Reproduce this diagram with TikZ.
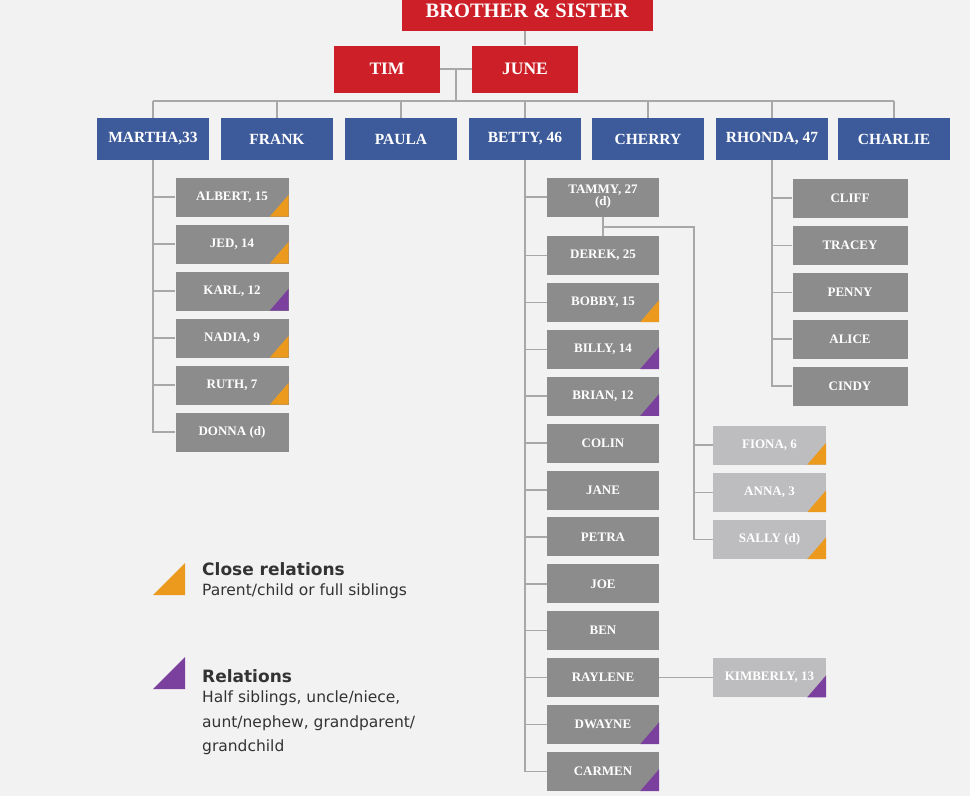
\documentclass[tikz,border=0pt]{standalone}
\usepackage{fontspec}
\setmainfont{Liberation Serif}
\newfontfamily\legendfont{DejaVu Sans}
\definecolor{famback}{HTML}{F2F2F2}
\definecolor{famred}{HTML}{CC1F27}
\definecolor{famblue}{HTML}{3D5B9B}
\definecolor{famgrey}{HTML}{8C8C8C}
\definecolor{fampale}{HTML}{BDBDBF}
\definecolor{famline}{HTML}{A8A8A8}
\definecolor{famorange}{HTML}{EC9A1E}
\definecolor{fampurple}{HTML}{7B3F9E}
\definecolor{famtext}{HTML}{333333}
\begin{document}
\begin{tikzpicture}[x=1pt,y=-1pt,
    redbox/.style={fill=famred, text=white, inner sep=0pt,
      minimum width=106pt, minimum height=47pt,
      font=\bfseries\fontsize{17.5}{19}\selectfont},
    bluebox/.style={fill=famblue, text=white, inner sep=0pt,
      minimum width=112pt, minimum height=42pt,
      font=\bfseries\fontsize{15.5}{17}\selectfont},
    greybox/.style={fill=famgrey, text=white, inner sep=0pt,
      minimum width=113pt, minimum height=39pt, align=center,
      font=\bfseries\fontsize{13}{12}\selectfont},
    palebox/.style={greybox, fill=fampale},
    link/.style={draw=famline, line width=1.5pt},
    closemark/.style={fill=famorange},
    relmark/.style={fill=fampurple},
    legendhead/.style={anchor=base west, inner sep=0pt, text=famtext,
      font=\legendfont\bfseries\fontsize{17}{20}\selectfont},
    legendbody/.style={anchor=north west, inner sep=0pt, text=famtext, align=left,
      font=\legendfont\fontsize{15.5}{24.5}\selectfont}]
  \useasboundingbox[fill=famback] (0,0) rectangle (970,796);

  % Parents
  \node[redbox, minimum width=251pt, minimum height=40pt,
    font=\bfseries\fontsize{20.5}{22}\selectfont] (bs) at (527,11) {BROTHER \& SISTER};
  \node[redbox] (tim) at (387,69) {TIM};
  \node[redbox] (june) at (525,69) {JUNE};

  % Children
  \node[bluebox] (martha) at (153,139) {MARTHA,33};
  \node[bluebox] (frank) at (277,139) {FRANK};
  \node[bluebox] (paula) at (401,139) {PAULA};
  \node[bluebox] (betty) at (525,139) {BETTY, 46};
  \node[bluebox] (cherry) at (648,139) {CHERRY};
  \node[bluebox] (rhonda) at (772,139) {RHONDA, 47};
  \node[bluebox] (charlie) at (894,139) {CHARLIE};

  % Martha's children
  \node[greybox] (albert) at (232,197) {ALBERT, 15};
  \node[greybox] (jed) at (232,244) {JED, 14};
  \node[greybox] (karl) at (232,291) {KARL, 12};
  \node[greybox] (nadia) at (232,338) {NADIA, 9};
  \node[greybox] (ruth) at (232,385) {RUTH, 7};
  \node[greybox] (donna) at (232,432) {DONNA (d)};

  % Betty's children
  \node[greybox, minimum width=112pt] (tammy) at (603,197) {TAMMY, 27\\(d)};
  \node[greybox, minimum width=112pt] (derek) at (603,255.5) {DEREK, 25};
  \node[greybox, minimum width=112pt] (bobby) at (603,302.4) {BOBBY, 15};
  \node[greybox, minimum width=112pt] (billy) at (603,349.3) {BILLY, 14};
  \node[greybox, minimum width=112pt] (brian) at (603,396.2) {BRIAN, 12};
  \node[greybox, minimum width=112pt] (colin) at (603,443.1) {COLIN};
  \node[greybox, minimum width=112pt] (jane) at (603,490) {JANE};
  \node[greybox, minimum width=112pt] (petra) at (603,536.9) {PETRA};
  \node[greybox, minimum width=112pt] (joe) at (603,583.8) {JOE};
  \node[greybox, minimum width=112pt] (ben) at (603,630.7) {BEN};
  \node[greybox, minimum width=112pt] (raylene) at (603,677.6) {RAYLENE};
  \node[greybox, minimum width=112pt] (dwayne) at (603,724.5) {DWAYNE};
  \node[greybox, minimum width=112pt] (carmen) at (603,771.4) {CARMEN};

  % Grandchildren
  \node[palebox] (fiona) at (769.5,445) {FIONA, 6};
  \node[palebox] (anna) at (769.5,492.5) {ANNA, 3};
  \node[palebox] (sally) at (769.5,539.5) {SALLY (d)};
  \node[palebox] (kimberly) at (769.5,677.6) {KIMBERLY, 13};

  % Rhonda's children
  \node[greybox, minimum width=115pt] (cliff) at (850,198) {CLIFF};
  \node[greybox, minimum width=115pt] (tracey) at (850,245.5) {TRACEY};
  \node[greybox, minimum width=115pt] (penny) at (850,292.5) {PENNY};
  \node[greybox, minimum width=115pt] (alice) at (850,339) {ALICE};
  \node[greybox, minimum width=115pt] (cindy) at (850,386) {CINDY};

  % Lines (parents)
  \draw[link] (bs.south -| june.north) -- (june.north);
  \draw[link] (tim.east) -- (june.west);
  \coordinate (mid) at (456,69);
  \coordinate (bus) at (456,101);
  \draw[link] (mid) -- (bus);
  \draw[link] (martha.north |- bus) -- (charlie.north |- bus);
  \foreach \n in {martha,frank,paula,betty,cherry,rhonda,charlie}
    \draw[link] (\n.north) -- (\n.north |- bus);

  % Lines (children)
  \draw[link] (martha.south) |- (donna.west);
  \foreach \n in {albert,jed,karl,nadia,ruth}
    \draw[link] (martha.south |- \n.west) -- (\n.west);
  \draw[link] (betty.south) |- (carmen.west);
  \foreach \n in {tammy,derek,bobby,billy,brian,colin,jane,petra,joe,ben,raylene,dwayne}
    \draw[link] (betty.south |- \n.west) -- (\n.west);
  \draw[link] (rhonda.south) |- (cindy.west);
  \foreach \n in {cliff,tracey,penny,alice}
    \draw[link] (rhonda.south |- \n.west) -- (\n.west);

  % Lines (grandchildren)
  \draw[link] (tammy.south) -- (derek.north);
  \coordinate (tbend) at (694,227);
  \draw[link] (tammy.south |- tbend) -- (tbend) |- (sally.west);
  \foreach \n in {fiona,anna}
    \draw[link] (tbend |- \n.west) -- (\n.west);
  \draw[link] (raylene.east) -- (kimberly.west);

  % Marks
  \foreach \n in {albert,jed,nadia,ruth,bobby,fiona,anna,sally}
    \fill[closemark] (\n.south east) -- ++(0,-22) -- ++(-19,22) -- cycle;
  \foreach \n in {karl,billy,brian,dwayne,carmen,kimberly}
    \fill[relmark] (\n.south east) -- ++(0,-22) -- ++(-19,22) -- cycle;

  % Legend
  \coordinate (closecorner) at (185,595);
  \fill[closemark] (closecorner) -- ++(0,-32) -- ++(-32,32) -- cycle;
  \node[legendhead] (closehead) at (202,575) {Close relations};
  \node[legendbody] (closetext) at (202,584) {Parent/child or full siblings};
  \coordinate (relcorner) at (185,689);
  \fill[relmark] (relcorner) -- ++(0,-32) -- ++(-32,32) -- cycle;
  \node[legendhead] (relhead) at (202,682) {Relations};
  \node[legendbody] (reltext) at (202,691)
    {Half siblings, uncle/niece,\\aunt/nephew, grandparent/\\grandchild};
\end{tikzpicture}
\end{document}
